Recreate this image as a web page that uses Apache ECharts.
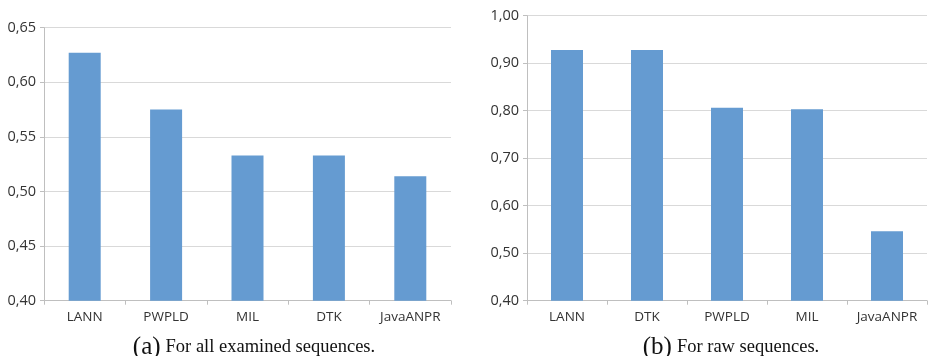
<!DOCTYPE html>
<html><head><meta charset="utf-8">
<script src="https://cdn.jsdelivr.net/npm/echarts@6/dist/echarts.min.js"></script>
<style>html,body{margin:0;padding:0;background:#fff}#c{width:928px;height:356px}</style>
</head><body><div id="c"></div>
<script>
const catsA = ['LANN', 'PWPLD', 'MIL', 'DTK', 'JavaANPR'];
const valsA = [0.627, 0.575, 0.533, 0.533, 0.514];
const ticksA = { min: 0.40, max: 0.65, interval: 0.05 };
const catsB = ['LANN', 'DTK', 'PWPLD', 'MIL', 'JavaANPR'];
const valsB = [0.928, 0.928, 0.806, 0.803, 0.546];
const ticksB = { min: 0.40, max: 1.00, interval: 0.10 };
const captionA = ['(a)', 'For all examined sequences.'];
const captionB = ['(b)', 'For raw sequences.'];

const barColor = '#659BD1';
const fmt = v => v.toFixed(2).replace('.', ',');

function xAxis(cats, gi) {
  return {
    type: 'category', gridIndex: gi, data: cats,
    axisLine: { lineStyle: { color: '#bfbfbf', width: 1 } },
    axisTick: { show: true, length: 4, lineStyle: { color: '#bfbfbf' } },
    axisLabel: { margin: 9, fontFamily: 'Open Sans', fontSize: 13.5, color: '#333' }
  };
}
function yAxis(t, gi) {
  return {
    type: 'value', gridIndex: gi, min: t.min, max: t.max, interval: t.interval,
    axisLine: { show: true, lineStyle: { color: '#bfbfbf', width: 1 } },
    axisTick: { show: true, length: 4, lineStyle: { color: '#bfbfbf' } },
    splitLine: { lineStyle: { color: '#d9d9d9', width: 1 } },
    axisLabel: { margin: 8, formatter: fmt, fontFamily: 'Open Sans', fontSize: 14.5, color: '#333' }
  };
}
function caption(c, x) {
  return {
    text: '{a|' + c[0] + '} {b|' + c[1] + '}', left: x, top: 330, textAlign: 'center',
    textStyle: { fontWeight: 'normal', rich: {
      a: { fontFamily: 'Liberation Serif', fontSize: 25, fontWeight: 'normal', color: '#111' },
      b: { fontFamily: 'Liberation Serif', fontSize: 18.5, fontWeight: 'normal', color: '#111' }
    } }
  };
}

const chart = echarts.init(document.getElementById('c'));
chart.setOption({
  animation: false,
  title: [caption(captionA, 249), caption(captionB, 726)],
  grid: [
    { left: 44, right: 477, top: 27.7, bottom: 55.3 },
    { left: 527, right: 1, top: 15.7, bottom: 55.3 }
  ],
  xAxis: [xAxis(catsA, 0), xAxis(catsB, 1)],
  yAxis: [yAxis(ticksA, 0), yAxis(ticksB, 1)],
  series: [
    { type: 'bar', xAxisIndex: 0, yAxisIndex: 0, data: valsA, barWidth: 32, itemStyle: { color: barColor } },
    { type: 'bar', xAxisIndex: 1, yAxisIndex: 1, data: valsB, barWidth: 32, itemStyle: { color: barColor } }
  ]
});
</script></body></html>
